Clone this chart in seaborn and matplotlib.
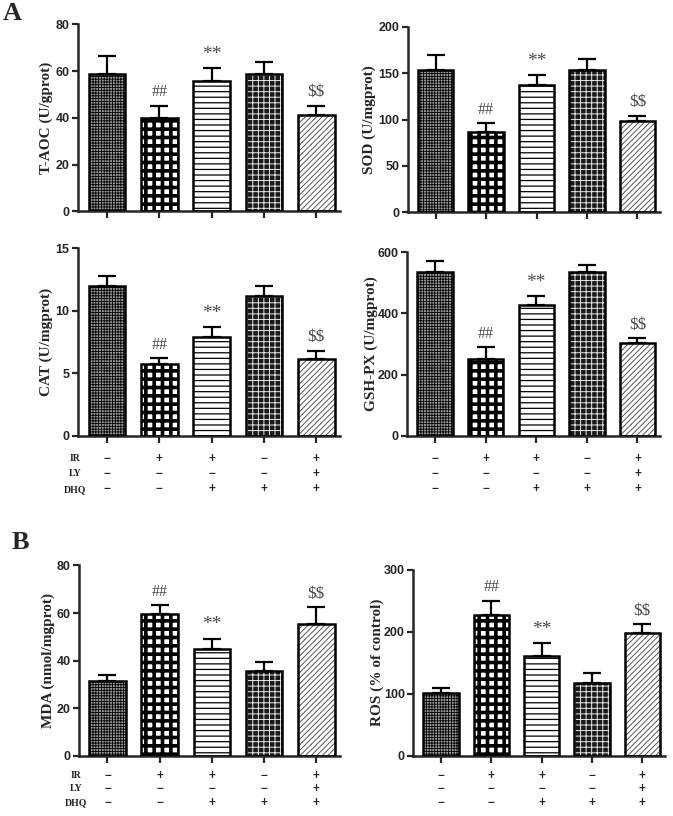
import numpy as np
import pandas as pd
import matplotlib
matplotlib.use("Agg")
import matplotlib.pyplot as plt
import seaborn as sns
from matplotlib.patches import Rectangle

# -------- data --------
groups = ["Control", "IR", "IR+DHQ", "DHQ", "IR+LY+DHQ"]
ir_row = ["\u2212", "+", "+", "\u2212", "+"]
ly_row = ["\u2212", "\u2212", "\u2212", "\u2212", "+"]
dhq_row = ["\u2212", "\u2212", "+", "+", "+"]
row_names = ["IR", "LY", "DHQ"]

taoc_mean = [58.9, 40.0, 55.6, 58.9, 41.3]
taoc_sd = [7.7, 5.3, 5.7, 5.0, 4.0]
sod_mean = [153.3, 86.8, 137.4, 153.7, 98.7]
sod_sd = [16.3, 9.0, 10.6, 12.0, 5.5]
cat_mean = [12.0, 5.75, 7.9, 11.2, 6.15]
cat_sd = [0.75, 0.45, 0.77, 0.75, 0.64]
gsh_mean = [535, 250, 426, 535, 302]
gsh_sd = [35, 39, 30, 24, 16]
mda_mean = [31.2, 59.7, 44.8, 35.4, 55.5]
mda_sd = [2.6, 3.5, 4.3, 3.8, 7.0]
ros_mean = [101.6, 227, 160, 117, 198]
ros_sd = [7.5, 23, 21, 17, 14]

sig_marks = ["", "##", "**", "", r"\$\$"]
sig_sizes = [0, 11.5, 14, 0, 12.5]

# -------- style --------
sns.set_style("ticks")
plt.rcParams["font.family"] = ["Liberation Sans", "DejaVu Sans"]
plt.rcParams["hatch.linewidth"] = 0.8

# face colour, hatch colour, hatch, hatch linewidth
bar_styles = [
    ("#9c9c9c", "black", "++++++", 0.6),
    ("white", "black", "++", 2.6),
    ("white", "black", "---", 0.9),
    ("#1a1a1a", "#e6e6e6", "+++", 0.7),
    ("white", "#555555", "//////", 0.7),
]

fig = plt.figure(figsize=(6.73, 8.16), dpi=100)

# (means, sds, ylabel, ymax, step, rect, label x, row offsets or None, row labels shown)
panels = [
    (taoc_mean, taoc_sd, "T-AOC (U/gprot)", 80, 20, [0.116, 0.741, 0.389, 0.229], -0.095, None, False),
    (sod_mean, sod_sd, "SOD (U/mgprot)", 200, 50, [0.606, 0.740, 0.375, 0.227], -0.127, None, False),
    (cat_mean, cat_sd, "CAT (U/mgprot)", 15, 5, [0.116, 0.466, 0.389, 0.230], -0.095, [16.5, 27.5, 38.5], True),
    (gsh_mean, gsh_sd, "GSH-PX (U/mgprot)", 600, 200, [0.605, 0.466, 0.376, 0.225], -0.115, [16.5, 27.5, 38.5], False),
    (mda_mean, mda_sd, "MDA (nmol/mgprot)", 80, 20, [0.117, 0.074, 0.388, 0.233], -0.092, [14.5, 24.0, 34.0], True),
    (ros_mean, ros_sd, "ROS (% of control)", 300, 100, [0.614, 0.074, 0.374, 0.228], -0.115, [14.5, 24.0, 34.0], False),
]

for means, sds, ylabel, ymax, step, rect, lab_x, row_off, show_names in panels:
    ax = fig.add_axes(rect)
    df = pd.DataFrame({"group": groups, "value": means})
    sns.barplot(data=df, x="group", y="value", order=groups, errorbar=None,
                width=0.7, color="white", ax=ax)

    for p, (fc, hc, hatch, hlw) in zip(ax.patches, bar_styles):
        p.set_facecolor(fc)
        p.set_edgecolor(hc)
        p.set_linewidth(0)
        p.set_hatch(hatch)
        if hasattr(p, "set_hatch_linewidth"):
            p.set_hatch_linewidth(hlw)
        else:
            p._hatch_linewidth = hlw
        ax.add_patch(Rectangle(p.get_xy(), p.get_width(), p.get_height(),
                               fill=False, edgecolor="black", linewidth=1.8, zorder=3))

    x = np.arange(len(groups))
    ax.errorbar(x, means, yerr=[np.zeros(len(sds)), sds], fmt="none", ecolor="black",
                elinewidth=1.6, capsize=6.5, capthick=1.6, zorder=2)

    for i, (mark, fs) in enumerate(zip(sig_marks, sig_sizes)):
        if not mark:
            continue
        ax.annotate(mark, (i, means[i] + sds[i]), xytext=(0, 4), textcoords="offset points",
                    ha="center", va="bottom", fontsize=fs, color="#4a4a4a",
                    family=["Liberation Serif", "DejaVu Serif"])

    ax.set_xlim(-0.55, 4.45)
    ax.set_ylim(0, ymax)
    ax.set_yticks(np.arange(0, ymax + step / 2, step))
    ax.set_xticks(x)
    ax.set_xticklabels([])
    ax.set_xlabel("")
    ax.set_ylabel(ylabel, fontsize=11, fontweight="bold",
                  family=["Liberation Serif", "DejaVu Serif"])
    ax.yaxis.set_label_coords(lab_x, 0.5)
    for lbl in ax.get_yticklabels():
        lbl.set_fontweight("bold")
    ax.tick_params(axis="y", labelsize=9, length=4, width=1.6, pad=2)
    ax.tick_params(axis="x", length=5, width=1.6)
    sns.despine(ax=ax)
    for side in ["left", "bottom"]:
        ax.spines[side].set_linewidth(1.8)

    if row_off is not None:
        for row, off, name in zip([ir_row, ly_row, dhq_row], row_off, row_names):
            for i, s in enumerate(row):
                ax.annotate(s, (i, 0), xycoords=("data", "axes fraction"),
                            xytext=(0, -off), textcoords="offset points",
                            ha="center", va="center", fontsize=8.5, fontweight="bold",
                            annotation_clip=False)
            if show_names:
                ax.annotate(name, (-0.6, 0), xycoords=("data", "axes fraction"),
                            xytext=(0, -off), textcoords="offset points",
                            ha="center", va="center", fontsize=7, fontweight="bold",
                            family=["Liberation Serif", "DejaVu Serif"],
                            annotation_clip=False)

fig.text(0.018, 0.983, "A", fontsize=19, fontweight="bold", ha="center", va="center",
         family=["Liberation Serif", "DejaVu Serif"])
fig.text(0.030, 0.335, "B", fontsize=19, fontweight="bold", ha="center", va="center",
         family=["Liberation Serif", "DejaVu Serif"])

fig.savefig("out.png", dpi=100)
